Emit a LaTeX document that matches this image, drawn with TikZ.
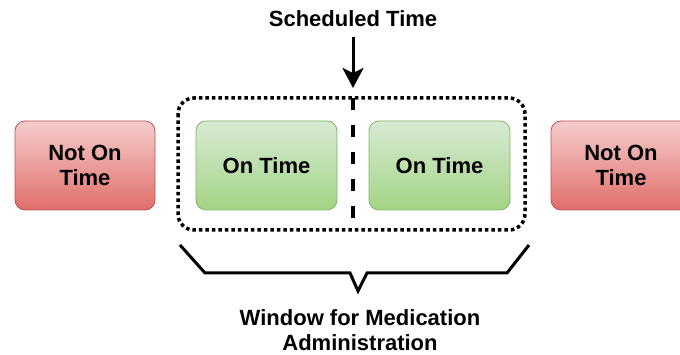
\documentclass[tikz,border=0pt]{standalone}
\usepackage{fontspec}
\setmainfont{Liberation Sans}
\usetikzlibrary{arrows.meta}
\definecolor{redtop}{HTML}{F5CDCC}
\definecolor{redbot}{HTML}{E06E6A}
\definecolor{redline}{HTML}{B85450}
\definecolor{greentop}{HTML}{D8EAD5}
\definecolor{greenbot}{HTML}{A3D485}
\definecolor{greenline}{HTML}{82B366}
\tikzset{
  lbl/.style={font=\bfseries\fontsize{22}{25}\selectfont, align=center, text=black},
  redbox/.style={lbl, draw=redline, line width=0.8pt, rounded corners=10pt, top color=redtop, bottom color=redbot, minimum width=140pt, minimum height=89pt, inner sep=0pt},
  greenbox/.style={lbl, draw=greenline, line width=0.8pt, rounded corners=10pt, top color=greentop, bottom color=greenbot, minimum width=141pt, minimum height=89pt, inner sep=0pt},
  windowbox/.style={draw=black, line width=3.5pt, dash pattern=on 3.5pt off 3pt, rounded corners=16pt},
  divider/.style={draw=black, line width=4pt, dash pattern=on 12pt off 15pt},
  bracket/.style={draw=black, line width=3pt, line join=miter},
}
\begin{document}
\begin{tikzpicture}[x=1pt,y=-1pt]
\useasboundingbox (0,0) rectangle (680,355);
\clip (0,0) rectangle (680,355);
\node[lbl] (sched) at (353,19) {Scheduled Time};
\coordinate (arrowstart) at (353,37);
\coordinate (arrowend) at (353,88);
\draw[line width=3pt, -{Stealth[length=20pt,width=21pt,inset=5pt]}] (arrowstart) -- (arrowend);
\node[redbox] (left) at (85,165.5) {Not On\\Time};
\node[redbox] (right) at (621,165.5) {Not On\\Time};
\node[greenbox] (g1) at (266.5,165.5) {On Time};
\node[greenbox] (g2) at (439.5,165.5) {On Time};
\draw[windowbox] (178,98) rectangle (525,230);
\coordinate (divtop) at (353,98);
\coordinate (divbot) at (353,230);
\draw[divider] (divtop) -- (divbot);
\coordinate (b1) at (180,245);
\coordinate (b2) at (205,273);
\coordinate (b3) at (350,273);
\coordinate (b4) at (358,291);
\coordinate (b5) at (367,273);
\coordinate (b6) at (507,273);
\coordinate (b7) at (529,245);
\draw[bracket] (b1) -- (b2) -- (b3) -- (b4) -- (b5) -- (b6) -- (b7);
\node[lbl] (window) at (360,330) {Window for Medication\\Administration};
\end{tikzpicture}
\end{document}
